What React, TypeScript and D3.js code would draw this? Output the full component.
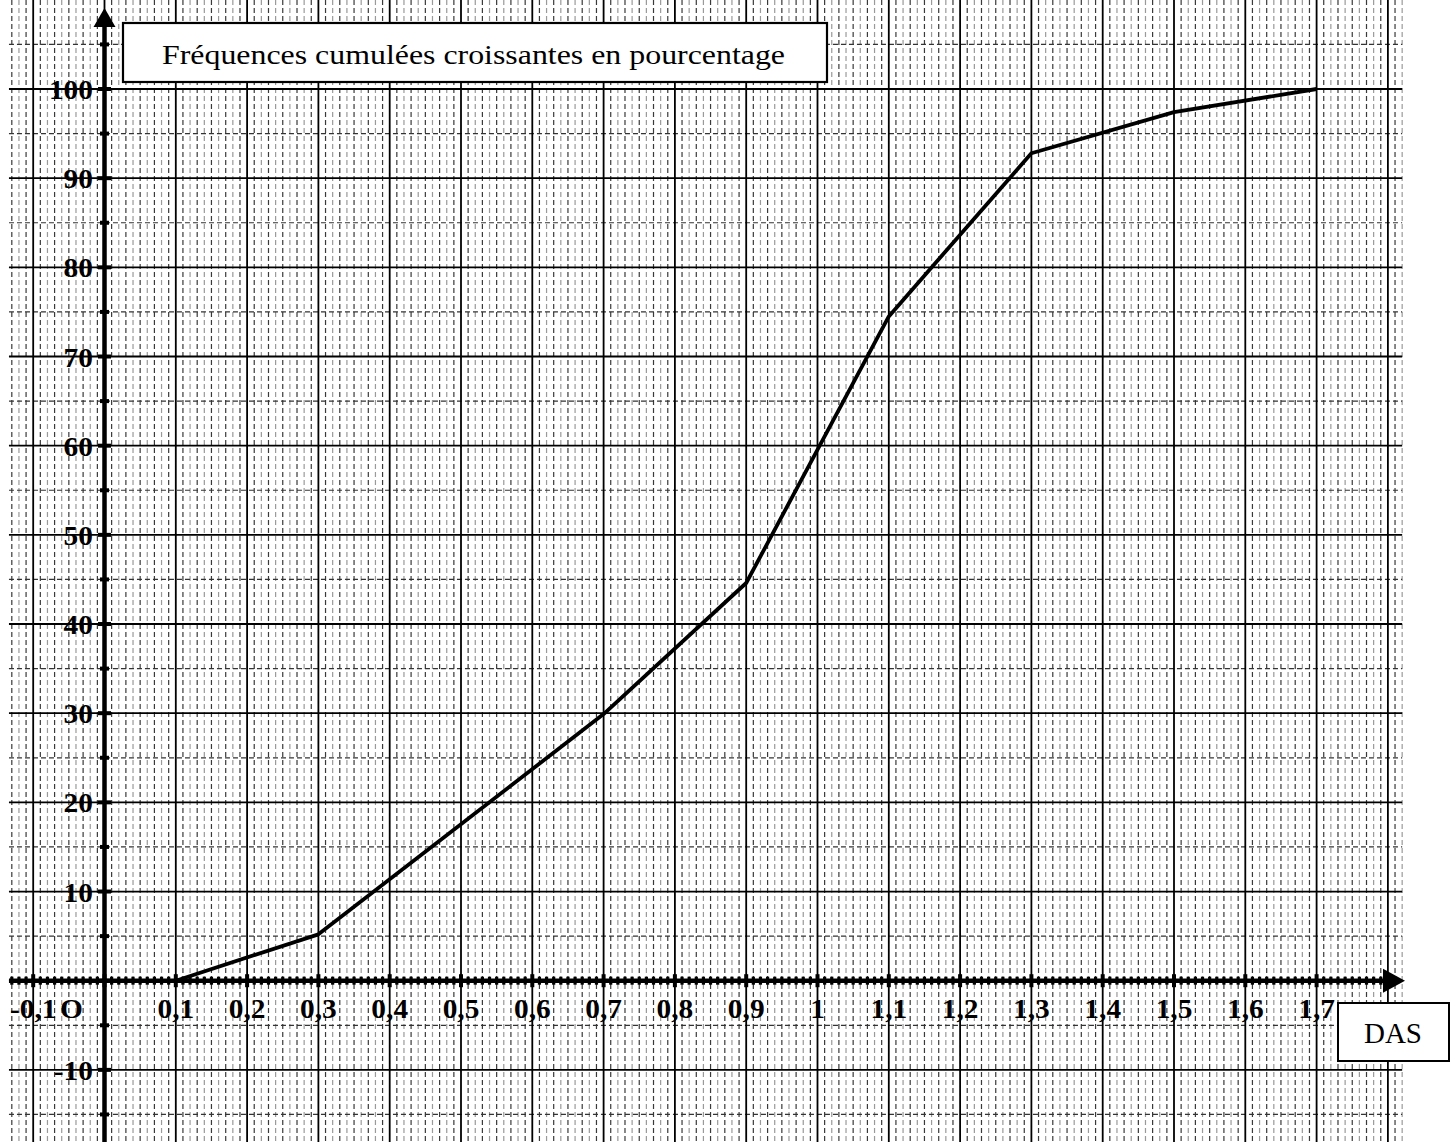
import { useEffect, useRef } from 'react';
import * as d3 from 'd3';

// cumulative frequency polygon (DAS classes)
const dasValues = [0.1, 0.3, 0.7, 0.9, 1.1, 1.3, 1.5, 1.7];
const cumulPercent = [0, 5.2, 29.9, 44.6, 74.5, 92.8, 97.4, 100];

const xTickValues = [-0.1, 0.1, 0.2, 0.3, 0.4, 0.5, 0.6, 0.7, 0.8, 0.9, 1, 1.1, 1.2, 1.3, 1.4, 1.5, 1.6, 1.7];
const yTickValues = [100, 90, 80, 70, 60, 50, 40, 30, 20, 10, -10];

const title = 'Fréquences cumulées croissantes en pourcentage';
const xAxisName = 'DAS';
const originLabel = 'O';

const W = 1454;
const H = 1142;
const SERIF = "'Liberation Serif', 'Times New Roman', Times, serif";

const App = () => {
  const ref = useRef<SVGSVGElement>(null!);

  useEffect(() => {
    const svg = d3.select(ref.current);
    svg.selectAll('*').remove();

    const x = d3.scaleLinear().domain([0, 1.8]).range([104.5, 104.5 + 18 * 71.3]);
    const y = d3.scaleLinear().domain([0, 100]).range([980.7, 89]);

    const xMin = -0.134;
    const xMax = 1.82;
    const grid = svg.append('g');

    // minor verticals every 0.01
    const minors = d3.range(-13, 183).filter(i => i % 10 !== 0);
    grid
      .selectAll('line.vmin')
      .data(minors)
      .enter()
      .append('line')
      .attr('x1', i => x(i / 100))
      .attr('x2', i => x(i / 100))
      .attr('y1', 0)
      .attr('y2', H)
      .attr('stroke', i => (Math.abs(i) % 2 === 0 ? '#9a9a9a' : '#3a3a3a'))
      .attr('stroke-width', 1.2)
      .attr('stroke-dasharray', '5 3');

    // dashed horizontals at the fives
    grid
      .selectAll('line.hmin')
      .data(d3.range(-15, 111, 10))
      .enter()
      .append('line')
      .attr('x1', x(xMin))
      .attr('x2', x(xMax))
      .attr('y1', d => y(d))
      .attr('y2', d => y(d))
      .attr('stroke', '#333')
      .attr('stroke-width', 1.2)
      .attr('stroke-dasharray', '5 3');

    // major verticals every 0.1
    grid
      .selectAll('line.vmaj')
      .data(d3.range(-1, 19))
      .enter()
      .append('line')
      .attr('x1', i => x(i / 10))
      .attr('x2', i => x(i / 10))
      .attr('y1', 0)
      .attr('y2', H)
      .attr('stroke', '#000')
      .attr('stroke-width', 1.8);

    // major horizontals every 10
    grid
      .selectAll('line.hmaj')
      .data(d3.range(-10, 101, 10))
      .enter()
      .append('line')
      .attr('x1', x(xMin))
      .attr('x2', x(xMax))
      .attr('y1', d => y(d))
      .attr('y2', d => y(d))
      .attr('stroke', '#000')
      .attr('stroke-width', 1.8);

    // axes
    const ax = svg.append('g');
    ax.append('line')
      .attr('x1', x(xMin))
      .attr('x2', 1390)
      .attr('y1', y(0))
      .attr('y2', y(0))
      .attr('stroke', '#000')
      .attr('stroke-width', 4.5);
    ax.append('path')
      .attr('d', `M1405,${y(0)} L1383,${y(0) - 12} L1383,${y(0) + 12} Z`)
      .attr('fill', '#000');
    ax.selectAll('rect.xt')
      .data(d3.range(-13, 182))
      .enter()
      .append('rect')
      .attr('x', i => x(i / 100) - (i % 10 === 0 ? 2 : 1.6))
      .attr('y', i => y(0) - (i % 10 === 0 ? 6.5 : 4))
      .attr('width', i => (i % 10 === 0 ? 4 : 3.2))
      .attr('height', i => (i % 10 === 0 ? 13 : 8))
      .attr('fill', '#000');

    ax.append('line')
      .attr('x1', x(0))
      .attr('x2', x(0))
      .attr('y1', H)
      .attr('y2', 20)
      .attr('stroke', '#000')
      .attr('stroke-width', 4.5);
    ax.append('path')
      .attr('d', `M${x(0)},8 L${x(0) - 11},27 L${x(0) + 11},27 Z`)
      .attr('fill', '#000');
    ax.selectAll('rect.yt')
      .data(d3.range(-15, 106, 5))
      .enter()
      .append('rect')
      .attr('x', d => x(0) - (d % 10 === 0 ? 6.5 : 4.5))
      .attr('y', d => y(d) - 2)
      .attr('width', d => (d % 10 === 0 ? 13 : 9))
      .attr('height', 4)
      .attr('fill', '#000');

    // curve
    const pts = dasValues.map((v, i) => [v, cumulPercent[i]] as [number, number]);
    svg.append('path')
      .datum(pts)
      .attr('d', d3.line<[number, number]>().x(d => x(d[0])).y(d => y(d[1])))
      .attr('fill', 'none')
      .attr('stroke', '#000')
      .attr('stroke-width', 3.8)
      .attr('stroke-linejoin', 'round');

    // tick labels
    const fmt = (v: number) => String(v).replace('.', ',');
    const lab = svg.append('g')
      .style('font-family', SERIF)
      .style('font-weight', 'bold')
      .style('font-size', '28px')
      .attr('fill', '#000');
    lab.selectAll('text.xl')
      .data(xTickValues)
      .enter()
      .append('text')
      .attr('text-anchor', 'middle')
      .attr('transform', d => `translate(${x(d)},1018) scale(1.05,1)`)
      .text(d => fmt(d));
    lab.append('text')
      .attr('text-anchor', 'middle')
      .attr('transform', `translate(${x(0) - 33},1018) scale(1.05,1)`)
      .text(originLabel);
    lab.selectAll('text.yl')
      .data(yTickValues)
      .enter()
      .append('text')
      .attr('text-anchor', 'end')
      .attr('transform', d => `translate(93,${y(d) + 10}) scale(1.05,1)`)
      .text(d => String(d));

    // title box
    svg.append('rect')
      .attr('x', 123)
      .attr('y', 23)
      .attr('width', 704)
      .attr('height', 59)
      .attr('fill', '#fff')
      .attr('stroke', '#000')
      .attr('stroke-width', 2.2);
    svg.append('text')
      .attr('x', 162)
      .attr('y', 64)
      .style('font-family', SERIF)
      .style('font-size', '28px')
      .attr('textLength', 623)
      .attr('lengthAdjust', 'spacingAndGlyphs')
      .text(title);

    // DAS box
    svg.append('rect')
      .attr('x', 1338)
      .attr('y', 1003)
      .attr('width', 111)
      .attr('height', 58)
      .attr('fill', '#fff')
      .attr('stroke', '#000')
      .attr('stroke-width', 2);
    svg.append('text')
      .attr('x', 1393)
      .attr('y', 1043)
      .attr('text-anchor', 'middle')
      .style('font-family', SERIF)
      .style('font-size', '29px')
      .text(xAxisName);
  }, []);

  return (
    <svg
      ref={ref}
      width={W}
      height={H}
      style={{ position: 'absolute', left: 0, top: 0, background: '#fff' }}
    />
  );
};

export default App;
